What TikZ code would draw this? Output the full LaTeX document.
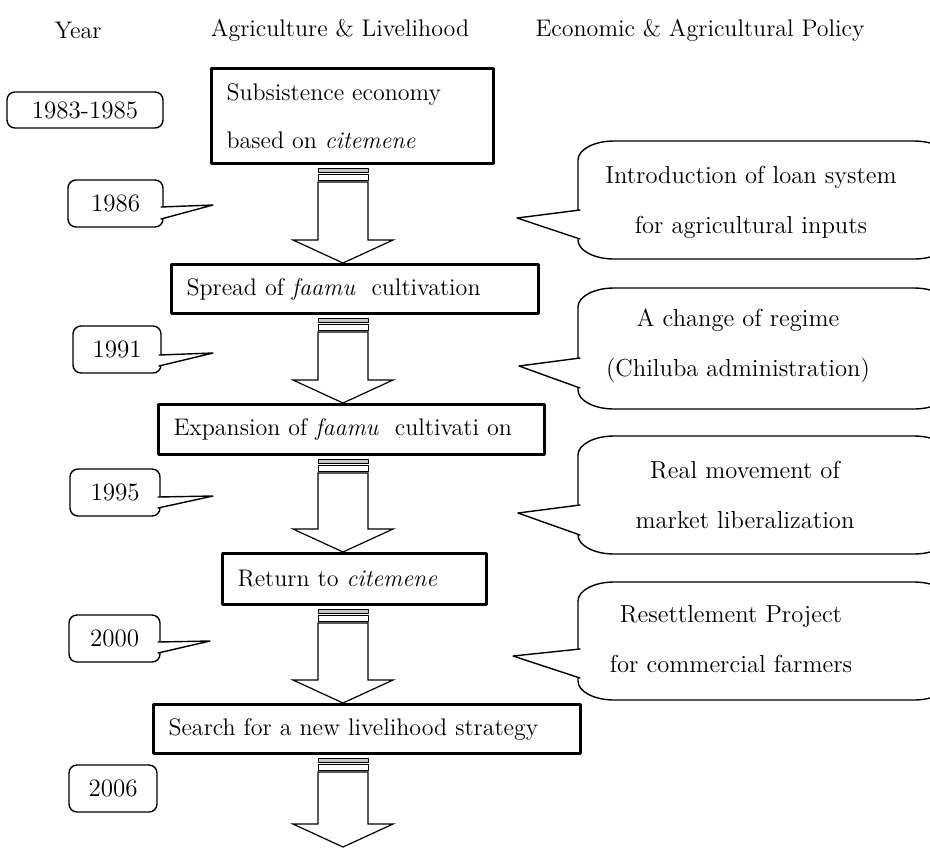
\documentclass[tikz,border=0pt]{standalone}
\usetikzlibrary{calc,positioning}
\tikzset{
  stage/.style={draw, line width=1.5pt, anchor=north west, align=left, inner xsep=7.5pt, inner ysep=0pt, font=\fontsize{12}{24}\selectfont},
  yearbox/.style={draw, line width=0.7pt, rounded corners=4pt, inner sep=0pt, font=\fontsize{12.5}{15}\selectfont},
  policy/.style={align=center, font=\fontsize{12.3}{25}\selectfont},
  bubble/.style={line width=0.7pt},
  blockline/.style={line width=0.6pt, line join=miter},
  heading/.style={font=\fontsize{12}{14}\selectfont}
}
% striped block arrow from one box to the next
\newcommand{\stripedarrow}[2]{%
  \coordinate (t) at (#1 -| axis);
  \coordinate (h) at (#2 -| axis);
  \filldraw[line width=0.4pt, fill=gray!45] ($(t)+(-12.5pt,-1.5pt)$) rectangle ($(t)+(12.5pt,-3.5pt)$);
  \draw[line width=0.5pt] ($(t)+(-12.5pt,-4.5pt)$) rectangle ($(t)+(12.5pt,-7.5pt)$);
  \draw[blockline] ($(t)+(-12.5pt,-8.5pt)$) -- ($(h)+(-12.5pt,11.5pt)$) -- ($(h)+(-25pt,11.5pt)$) -- (h)
    -- ($(h)+(25pt,11.5pt)$) -- ($(h)+(12.5pt,11.5pt)$) -- ($(t)+(12.5pt,-8.5pt)$) -- cycle;}
% pointer on the right side of a year box
\newcommand{\yearwedge}[3]{%
  \fill[white] ($(#1)+(-1pt,0)$) -- (#2) -- ($(#3)+(-1pt,0)$) -- cycle;
  \draw[line width=0.7pt] ($(#1)+(-1pt,0)$) -- (#2) -- ($(#3)+(-1pt,0)$);}
% policy bubble outline, top and bottom given
\newcommand{\bubbleshape}[2]{%
  \draw[bubble] (614,#1) -- (914,#1) arc[start angle=90,end angle=0,x radius=18pt,y radius=9.5pt]
    -- (950,{#2-19}) arc[start angle=0,end angle=-90,x radius=18pt,y radius=9.5pt]
    -- (614,#2) arc[start angle=270,end angle=180,x radius=18pt,y radius=9.5pt]
    -- (578,{#1+19}) arc[start angle=180,end angle=90,x radius=18pt,y radius=9.5pt] -- cycle;}
% pointer on the left side of a policy bubble
\newcommand{\bubblewedge}[3]{%
  \fill[white] ($(#1)+(1pt,0)$) -- (#2) -- ($(#3)+(1pt,0)$) -- cycle;
  \draw[line width=0.7pt] ($(#1)+(1pt,0)$) -- (#2) -- ($(#3)+(1pt,0)$);}

\begin{document}
\begin{tikzpicture}[line cap=round,line join=round,x=0.5pt,y=-0.5pt]
\useasboundingbox (0,0) rectangle (930,847);
\clip (0,0) rectangle (930,847);
\coordinate (axis) at (343,0);
\coordinate (bottomend) at (343,847);

% column titles
\node[heading] (hyear) at (78,30) {Year};
\node[heading] (hagri) at (340,30) {Agriculture \& Livelihood};
\node[heading] (hpol) at (700,30) {Economic \& Agricultural Policy};

% livelihood stages
\node[stage, minimum width=141pt, minimum height=47.5pt, text width=126pt] (s1) at (210,67) {Subsistence economy\\based on \textit{citemene}};
\node[stage, minimum width=183.5pt, minimum height=24.5pt, text width=168.5pt] (s2) at (170,263) {Spread of \textit{faamu}~ cultivation};
\node[stage, minimum width=193pt, minimum height=25pt, text width=178pt] (s3) at (157,403) {Expansion of \textit{faamu}~ cultivati on};
\node[stage, minimum width=132pt, minimum height=25.5pt, text width=117pt] (s4) at (221,552) {Return to \textit{citemene}};
\node[stage, minimum width=213.5pt, minimum height=24.5pt, text width=198.5pt] (s5) at (152,703) {Search for a new livelihood strategy};

\stripedarrow{s1.south}{s2.north}
\stripedarrow{s2.south}{s3.north}
\stripedarrow{s3.south}{s4.north}
\stripedarrow{s4.south}{s5.north}
\stripedarrow{s5.south}{bottomend}

% years
\node[yearbox, minimum width=78pt, minimum height=18pt] (y8385) at (85,110) {1983-1985};
\node[yearbox, minimum width=47.5pt, minimum height=23.5pt] (y86) at (115.5,203.5) {1986};
\yearwedge{163,207}{213,205}{163,219}
\node[yearbox, minimum width=44pt, minimum height=23.5pt] (y91) at (117,349.5) {1991};
\yearwedge{161,355}{213,353}{161,366}
\node[yearbox, minimum width=45pt, minimum height=23.5pt] (y95) at (115,492.5) {1995};
\yearwedge{160,497}{213,496}{160,508}
\node[yearbox, minimum width=45.5pt, minimum height=23.5pt] (y00) at (114.5,638.5) {2000};
\yearwedge{160,642}{210,641}{160,653}
\node[yearbox, minimum width=44pt, minimum height=23.5pt] (y06) at (113,788.5) {2006};

% policy bubbles
\bubbleshape{141}{259}
\bubblewedge{578,210}{517,218}{578,239}
\node[policy] (p1) at (751,202) {Introduction of loan system\\for agricultural inputs};
\bubbleshape{288}{409}
\bubblewedge{578,358}{519,366}{578,388}
\node[policy] (p2) at (738,346) {A change of regime\\(Chiluba administration)};
\bubbleshape{436}{554}
\bubblewedge{578,505}{518,513}{578,535}
\node[policy] (p3) at (745,495) {Real movement of\\market liberalization};
\bubbleshape{582}{700}
\bubblewedge{578,649}{513,656}{578,678}
\node[policy] (p4) at (731,639) {Resettlement Project\\for commercial farmers};
\end{tikzpicture}
\end{document}
